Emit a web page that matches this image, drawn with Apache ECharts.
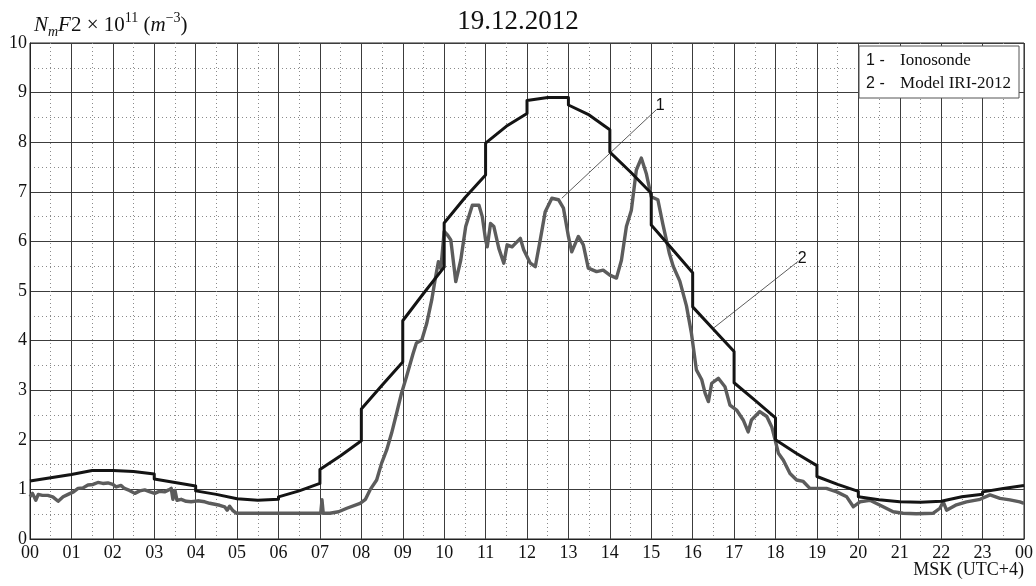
<!DOCTYPE html>
<html>
<head>
<meta charset="utf-8">
<title>NmF2 19.12.2012</title>
<script src="https://cdn.jsdelivr.net/npm/echarts@6/dist/echarts.min.js"></script>
<style>
  html, body { margin: 0; padding: 0; background: #fff; }
  #chart { width: 1036px; height: 586px; }
</style>
</head>
<body>
<div id="chart"></div>
<script>
// Hour ticks along the day (MSK), 0..24
const hourTicks = ['00','01','02','03','04','05','06','07','08','09','10','11','12',
                   '13','14','15','16','17','18','19','20','21','22','23','00'];

// 1 - Ionosonde: measured NmF2 (×10^11 m^-3)
const ionoHours = [0, 0.06, 0.14, 0.2, 0.3, 0.43, 0.55, 0.68, 0.8, 0.92, 1.05, 1.16, 1.28, 1.4, 1.52, 1.64, 1.76, 1.88,
  2.0, 2.08, 2.2, 2.28, 2.4, 2.53, 2.65, 2.77, 2.9, 3.01, 3.12, 3.25, 3.35, 3.41, 3.45, 3.5, 3.55, 3.65, 3.77, 3.89,
  4.05, 4.22, 4.34, 4.46, 4.58, 4.7, 4.76, 4.82, 4.9, 4.98, 7.02, 7.05, 7.08, 7.24, 7.45, 7.65, 7.97, 8.1, 8.21,
  8.37, 8.49, 8.61, 8.73, 8.85, 8.97, 9.09, 9.25, 9.33, 9.46, 9.58, 9.7, 9.78, 9.86, 9.92, 10.0, 10.08, 10.16,
  10.28, 10.4, 10.52, 10.68, 10.84, 10.92, 11.0, 11.04, 11.12, 11.2, 11.32, 11.44, 11.52, 11.64, 11.84, 11.92,
  12.08, 12.2, 12.32, 12.44, 12.6, 12.76, 12.88, 13.0, 13.08, 13.24, 13.36, 13.48, 13.68, 13.84, 14.0, 14.16,
  14.28, 14.4, 14.52, 14.64, 14.76, 14.88, 15.0, 15.16, 15.28, 15.44, 15.53, 15.69, 15.85, 15.97, 16.09, 16.22,
  16.3, 16.38, 16.46, 16.62, 16.78, 16.9, 17.06, 17.22, 17.34, 17.42, 17.62, 17.79, 17.91, 17.99, 18.07, 18.19,
  18.35, 18.51, 18.67, 18.83, 18.99, 19.23, 19.48, 19.72, 19.88, 20.04, 20.28, 20.6, 20.84, 21.08, 21.4, 21.81,
  21.97, 22.05, 22.13, 22.37, 22.61, 22.94, 23.18, 23.42, 23.66, 23.9, 24];
const ionoValues = [0.85, 0.92, 0.78, 0.9, 0.88, 0.88, 0.85, 0.76, 0.85, 0.9, 0.95, 1.02, 1.03, 1.09, 1.1, 1.14, 1.12, 1.13,
  1.1, 1.05, 1.08, 1.02, 0.98, 0.92, 0.97, 0.99, 0.95, 0.92, 0.96, 0.95, 0.99, 1.02, 0.8, 0.98, 0.78, 0.8, 0.76, 0.75,
  0.77, 0.75, 0.72, 0.7, 0.68, 0.65, 0.58, 0.66, 0.57, 0.52, 0.52, 0.79, 0.52, 0.52, 0.55, 0.62, 0.72, 0.8, 0.99,
  1.19, 1.53, 1.79, 2.13, 2.53, 2.94, 3.27, 3.74, 3.95, 4.01, 4.35, 4.82, 5.22, 5.59, 5.45, 6.2, 6.13, 6.03,
  5.19, 5.62, 6.3, 6.73, 6.73, 6.5, 6.03, 5.89, 6.36, 6.3, 5.86, 5.56, 5.93, 5.89, 6.06, 5.83,
  5.56, 5.49, 6.03, 6.6, 6.87, 6.84, 6.67, 6.1, 5.79, 6.1, 5.93, 5.46, 5.39, 5.42, 5.32, 5.26,
  5.62, 6.3, 6.63, 7.44, 7.68, 7.37, 6.9, 6.84, 6.35, 5.75, 5.5, 5.2, 4.7, 4.15, 3.41, 3.21,
  2.94, 2.77, 3.14, 3.24, 3.07, 2.7, 2.6, 2.4, 2.16, 2.4, 2.57, 2.47, 2.26, 2.0, 1.73, 1.59,
  1.32, 1.19, 1.16, 1.02, 1.02, 1.02, 0.95, 0.85, 0.65, 0.75, 0.78, 0.65, 0.55, 0.52, 0.51, 0.52,
  0.62, 0.75, 0.58, 0.69, 0.75, 0.8, 0.89, 0.82, 0.79, 0.75, 0.72];

// 2 - Model IRI-2012: hourly segments with steps at the hour boundaries
const modelHours = [0, 1, 1, 1.5, 2, 2.5, 3, 3, 4, 4, 4.5, 5, 5, 5.5, 6, 6, 6.5, 7, 7, 7.5, 8, 8, 8.5, 9, 9, 9.5,
  10, 10, 10.5, 11, 11, 11.5, 12, 12, 12.5, 13, 13, 13.5, 14, 14, 14.5, 15, 15, 15.5, 16, 16, 16.5, 17, 17, 17.5,
  18, 18, 18.5, 19, 19, 19.5, 20, 20, 20.5, 21, 21.5, 22, 22, 22.5, 23, 23, 23.5, 24];
const modelValues = [1.17, 1.3, 1.34, 1.38, 1.38, 1.36, 1.31, 1.21, 1.07, 0.97, 0.9, 0.81, 0.79, 0.78, 0.8, 0.85,
  0.97, 1.12, 1.4, 1.68, 1.98, 2.62, 3.1, 3.57, 4.4, 4.95, 5.48, 6.37, 6.88, 7.34, 7.98, 8.32, 8.58, 8.84, 8.9,
  8.9, 8.75, 8.55, 8.25, 7.8, 7.4, 6.97, 6.33, 5.85, 5.37, 4.68, 4.23, 3.78, 3.15, 2.8, 2.44, 2.0, 1.73, 1.48,
  1.26, 1.1, 0.96, 0.85, 0.79, 0.75, 0.74, 0.76, 0.8, 0.85, 0.9, 0.95, 1.02, 1.08];

// Leader lines for the curve numbers: [hour, value] start -> end
const leader1 = [[12.84, 6.87], [15.13, 8.66]];
const leader2 = [[16.5, 4.25], [18.55, 5.6]];

const serif = 'Liberation Serif';
const sans = 'Liberation Sans';

const ionoData = ionoHours.map((h, i) => [h, ionoValues[i]]);
const modelData = modelHours.map((h, i) => [h, modelValues[i]]);

const chart = echarts.init(document.getElementById('chart'), null, { renderer: 'canvas' });

const gridLine = { color: '#3c3c3c', width: 1 };
const dotLine = { color: '#8a8a8a', width: 1, type: [1, 3] };

function leader(pts, text) {
  return {
    silent: true,
    symbol: ['none', 'none'],
    lineStyle: { color: '#333', width: 0.8, type: 'solid' },
    label: {
      show: true, position: 'end', formatter: text, distance: 5,
      color: '#111', fontFamily: sans, fontSize: 16
    },
    data: [[{ coord: pts[0] }, { coord: pts[1] }]]
  };
}

chart.setOption({
  animation: false,
  backgroundColor: '#fff',
  title: {
    text: '19.12.2012',
    left: 'center',
    top: 3,
    textStyle: { fontFamily: serif, fontWeight: 'normal', fontSize: 27, color: '#111' }
  },
  legend: {
    data: ['Ionosonde', 'Model IRI-2012'],
    orient: 'vertical',
    right: 17,
    top: 46,
    itemWidth: 0,
    itemHeight: 0,
    itemGap: 6,
    padding: [6, 8, 6, 2],
    backgroundColor: '#fff',
    borderColor: '#555',
    borderWidth: 1,
    selectedMode: false,
    icon: 'rect',
    formatter: function (name) {
      return name === 'Ionosonde' ? '{n|1 -}{t|Ionosonde}' : '{n|2 -}{t|Model IRI-2012}';
    },
    textStyle: {
      color: '#111',
      rich: {
        n: { fontFamily: sans, fontSize: 16, width: 34, color: '#111' },
        t: { fontFamily: serif, fontSize: 17, color: '#111' }
      }
    }
  },
  grid: {
    left: 30, right: 12, top: 43, bottom: 47,
    show: true, borderColor: '#222', borderWidth: 1, backgroundColor: 'transparent'
  },
  xAxis: {
    type: 'value',
    min: 0, max: 24, interval: 1,
    axisLine: { show: true, lineStyle: { color: '#222', width: 1 } },
    axisTick: { show: false },
    axisLabel: {
      color: '#111', fontFamily: serif, fontSize: 18, margin: 5,
      formatter: v => hourTicks[Math.round(v)]
    },
    splitLine: { show: true, lineStyle: gridLine },
    minorTick: { show: false, splitNumber: 2 },
    minorSplitLine: { show: true, lineStyle: dotLine }
  },
  yAxis: {
    type: 'value',
    min: 0, max: 10, interval: 1,
    axisLine: { show: true, lineStyle: { color: '#222', width: 1 } },
    axisTick: { show: false },
    axisLabel: { color: '#111', fontFamily: serif, fontSize: 18, margin: 3 },
    splitLine: { show: true, lineStyle: gridLine },
    minorTick: { show: false, splitNumber: 2 },
    minorSplitLine: { show: true, lineStyle: dotLine }
  },
  graphic: [
    {
      type: 'text',
      left: 34,
      top: 11,
      style: {
        text: '{i|N}{sub|m}{i|F}{r|2 × 10}{sup|11}{r| (}{i|m}{sup|−3}{r|)}',
        fill: '#111',
        rich: {
          i: { fontFamily: serif, fontStyle: 'italic', fontSize: 21, lineHeight: 28, verticalAlign: 'middle' },
          r: { fontFamily: serif, fontSize: 21, lineHeight: 28, verticalAlign: 'middle' },
          sub: { fontFamily: serif, fontStyle: 'italic', fontSize: 14, lineHeight: 14, verticalAlign: 'bottom' },
          sup: { fontFamily: serif, fontSize: 14, lineHeight: 14, verticalAlign: 'top' }
        }
      }
    },
    {
      type: 'text',
      right: 12,
      top: 561,
      style: { text: 'MSK (UTC+4)', fill: '#111', font: '18px "Liberation Serif"' }
    }
  ],
  series: [
    {
      name: 'Ionosonde',
      type: 'line',
      data: ionoData,
      showSymbol: false,
      symbol: 'none',
      lineStyle: { color: '#5c5c5c', width: 3.4, join: 'round' },
      itemStyle: { color: '#5c5c5c' },
      z: 3,
      markLine: leader(leader1, '1')
    },
    {
      name: 'Model IRI-2012',
      type: 'line',
      data: modelData,
      showSymbol: false,
      symbol: 'none',
      lineStyle: { color: '#141414', width: 3, join: 'round' },
      itemStyle: { color: '#141414' },
      z: 4,
      markLine: leader(leader2, '2')
    }
  ]
});
</script>
</body>
</html>
